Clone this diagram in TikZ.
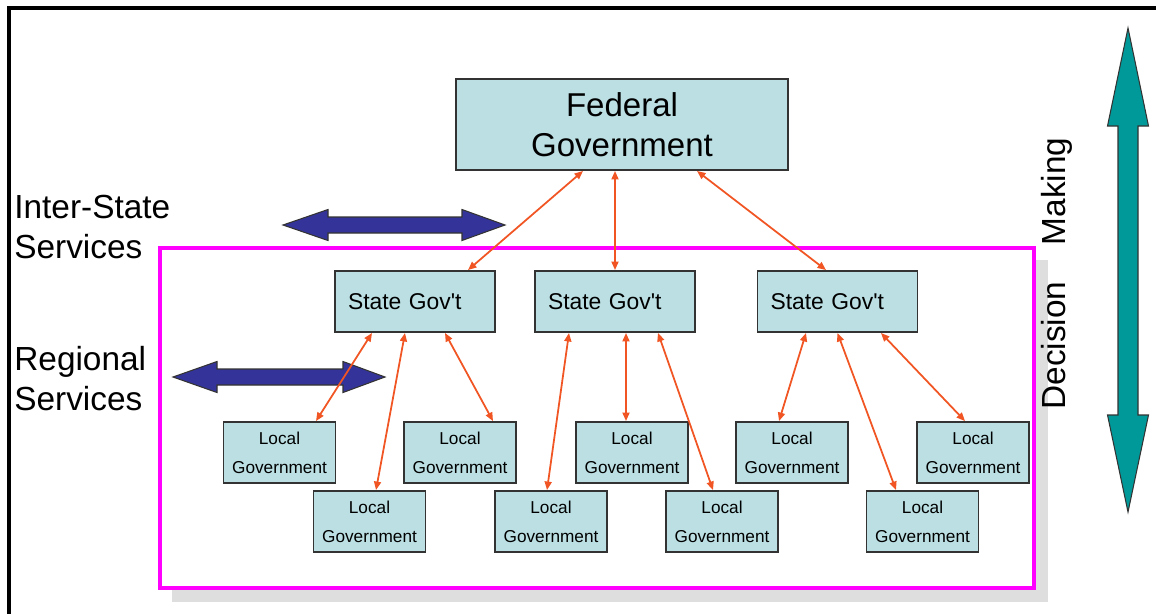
\documentclass[tikz,border=0pt]{standalone}
\usepackage{fontspec}
\setmainfont{Liberation Sans}
\setsansfont{Liberation Sans}
\usetikzlibrary{arrows.meta,calc}
\definecolor{boxfill}{RGB}{187,223,227}
\definecolor{linkred}{RGB}{240,85,35}
\definecolor{navyarrow}{RGB}{51,51,153}
\definecolor{tealarrow}{RGB}{0,153,153}
\definecolor{areapink}{RGB}{255,0,255}
\begin{document}
\begin{tikzpicture}[x=0.02cm,y=-0.02cm,font=\sffamily,
  govbox/.style={draw=black!80,fill=boxfill,line width=1.1pt,inner sep=0pt},
  fedbox/.style={govbox,minimum width=6.64cm,minimum height=1.82cm,align=center,
    font=\sffamily\fontsize{18.8}{22.8}\selectfont},
  statebox/.style={govbox,minimum height=1.22cm,inner xsep=0.26cm,text width=2.68cm,
    align=left,font=\sffamily\fontsize{13}{15}\selectfont},
  localbox/.style={govbox,minimum width=2.24cm,minimum height=1.22cm,align=center,
    font=\sffamily\fontsize{9.8}{16.5}\selectfont},
  link/.style={draw=linkred,line width=1pt,
    {Triangle[length=0.17cm,width=0.14cm]}-{Triangle[length=0.17cm,width=0.14cm]}},
  side/.style={font=\sffamily\fontsize{19}{22.4}\selectfont,inner sep=0pt},
  fatarrow/.style={draw=black!80,line width=0.6pt,line join=miter}]
\useasboundingbox (0,0) rectangle (1156,613);
% frame
\draw[line width=2pt] (9,620) -- (9,8) -- (1160,8);
% decision area
\fill[black!13] (172,260) rectangle (1048,602);
\draw[areapink,line width=1.8pt,fill=white] (160,248) rectangle (1034,588);
% services arrows
\foreach \Y/\A/\B/\C/\D in {225/283/328/462/505, 377/173/217/343/385}
  \filldraw[fatarrow,fill=navyarrow] (\A,\Y) -- (\B,\Y-15.5) -- (\B,\Y-8) -- (\C,\Y-8)
    -- (\C,\Y-15.5) -- (\D,\Y) -- (\C,\Y+15.5) -- (\C,\Y+8) -- (\B,\Y+8) -- (\B,\Y+15.5) -- cycle;
\filldraw[fatarrow,fill=tealarrow] (1128,28) -- (1148.5,126) -- (1138,126) -- (1138,415)
  -- (1148.5,415) -- (1128,512) -- (1107.5,415) -- (1118,415) -- (1118,126) -- (1107.5,126) -- cycle;
% levels
\node[fedbox] (F-1) at (622,124.5) {Federal\\Government};
\foreach \X [count=\Y] in {415,615,837.5}
  \node[statebox] (S-\Y) at (\X,301.5) {State Gov\textquotesingle t};
\foreach \X/\Z [count=\Y] in {279.5/452.5,460/452.5,632/452.5,792/452.5,973/452.5,
  369.5/521.5,551/521.5,722/521.5,922.5/521.5}
  \node[localbox] (L-\Y) at (\X,\Z) {Local\\Government};
% links
\draw[link] ($(F-1.south)+(-39,0)$) -- ($(S-1.north)+(53,0)$);
\draw[link] (S-2.north |- F-1.south) -- (S-2.north);
\draw[link] ($(F-1.south)+(75,0)$) -- ($(S-3.north)+(-11.5,0)$);
\foreach \S/\A/\L/\B in {1/-43/1/36.5, 1/-10/6/6.5, 1/30/2/33, 2/-46/7/-4, 2/11/3/-6,
  2/43/8/-9, 3/-31.5/4/-13, 3/0/9/-26.5, 3/43.5/5/-8}
  \draw[link] ($(S-\S.south)+(\A,0)$) -- ($(L-\L.north)+(\B,0)$);
% labels
\node[side,anchor=west,align=left] (T-1) at (14,227) {Inter-State\\Services};
\node[side,anchor=west,align=left] (T-2) at (14,378.5) {Regional\\Services};
\node[side,rotate=90,anchor=base] (T-3) at (1065,345.5) {Decision};
\node[side,rotate=90,anchor=base] (T-4) at (1065,191.5) {Making};
\end{tikzpicture}
\end{document}
